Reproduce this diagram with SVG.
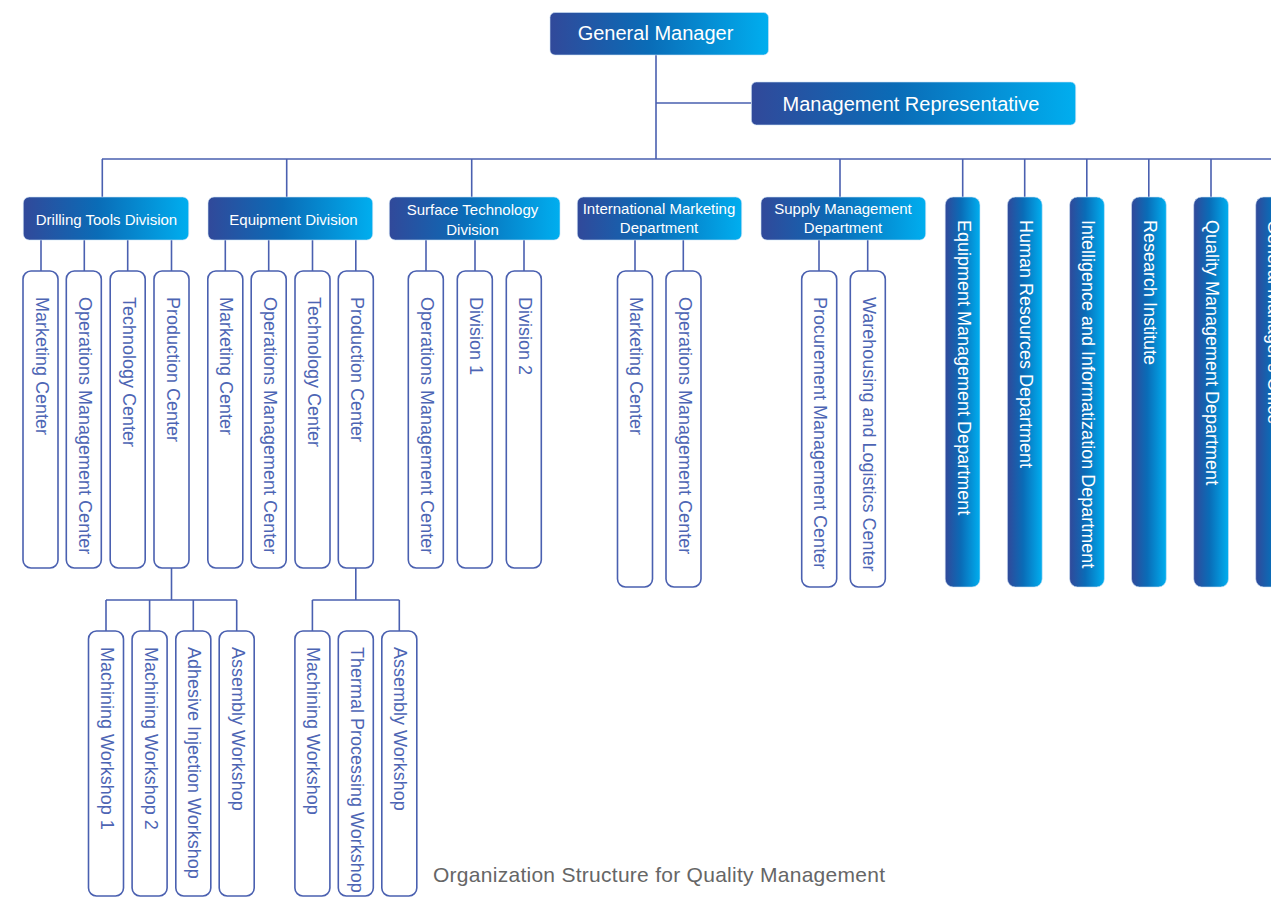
<svg xmlns="http://www.w3.org/2000/svg" width="1271" height="897" viewBox="0 0 1271 897">
<defs>
<linearGradient id="g" x1="0" y1="0" x2="1" y2="0">
<stop offset="0" stop-color="#31499a"/>
<stop offset="0.45" stop-color="#0a6cb7"/>
<stop offset="1" stop-color="#00aeef"/>
</linearGradient>
<style>
.fill{fill:url(#g);stroke:#cfe3f5;stroke-width:0.6}
.out{fill:#fff;stroke:#4a60b0;stroke-width:1.6}
.ln{fill:none;stroke:#4a60b0;stroke-width:1.6}
text{font-family:"Liberation Sans",Arial,sans-serif}
.w{fill:#fff}
.v{fill:#4d65b4;font-size:18px;dominant-baseline:central}
.vw{fill:#fff;font-size:18px;dominant-baseline:central}
.d{fill:#fff;font-size:15px;text-anchor:middle;dominant-baseline:central}
.h{fill:#fff;font-size:20px;text-anchor:middle;dominant-baseline:central}
.t{fill:#666;font-size:21px}
</style>
</defs>
<rect width="1271" height="897" fill="#fff"/>
<g id="connectors" class="ln">
<path d="M656 55V159M656 103H751M102 159H1271"/>
<path d="M102.3 159V197M286.7 159V197M471.7 159V197M840 159V197M962.7 159V197M1024.7 159V197M1086.8 159V197M1148.8 159V197M1211 159V197M1273 159V197"/>
<path d="M41 240V271M84.3 240V271M127.7 240V271M171.5 240V271"/>
<path d="M225.3 240V271M268.7 240V271M312.5 240V271M355.8 240V271"/>
<path d="M426 240V271M475 240V271M524 240V271"/>
<path d="M635 240V271M683.3 240V271"/>
<path d="M819 240V271M867.7 240V271"/>
<path d="M171.5 568V600M106 600H236.7M106 600V631M149.6 600V631M193.3 600V631M236.7 600V631"/>
<path d="M355.8 568V600M312.4 600H399.3M312.4 600V631M399.3 600V631"/>
</g>
<g id="gm"><rect class="fill" x="550" y="12.5" width="218.5" height="42.5" rx="5"/><text class="h" x="655.5" y="33">General Manager</text></g>
<g id="rep"><rect class="fill" x="751.4" y="82" width="324.3" height="43" rx="5"/><text class="h" x="911" y="103.5">Management Representative</text></g>

<g id="div-drill"><rect class="fill" x="23.3" y="197" width="165.4" height="43" rx="6"/><text class="d" x="106.5" y="219">Drilling Tools Division</text></g>
<g id="div-equip"><rect class="fill" x="208" y="197" width="164.7" height="43" rx="6"/><text class="d" x="293.5" y="219">Equipment Division</text></g>
<g id="div-surface"><rect class="fill" x="389.3" y="197" width="170.7" height="43" rx="6"/><text class="d" x="472.5" y="209">Surface Technology</text><text class="d" x="472.5" y="229.5">Division</text></g>
<g id="div-intl"><rect class="fill" x="577.3" y="197" width="164.4" height="43" rx="6"/><text class="d" x="659" y="208.5">International Marketing</text><text class="d" x="659" y="227">Department</text></g>
<g id="div-supply"><rect class="fill" x="761" y="197" width="164.7" height="43" rx="6"/><text class="d" x="843" y="208.5">Supply Management</text><text class="d" x="843" y="227">Department</text></g>

<g id="dt-marketing"><rect class="out" x="23" y="271" width="35" height="297" rx="8"/><text class="v" transform="translate(41.5 297) rotate(90)">Marketing Center</text></g>
<g id="dt-ops"><rect class="out" x="66.3" y="271" width="35" height="297" rx="8"/><text class="v" transform="translate(84.8 297) rotate(90)">Operations Management Center</text></g>
<g id="dt-tech"><rect class="out" x="110.2" y="271" width="35" height="297" rx="8"/><text class="v" transform="translate(128.7 297) rotate(90)">Technology Center</text></g>
<g id="dt-prod"><rect class="out" x="154" y="271" width="35" height="297" rx="8"/><text class="v" transform="translate(172.5 297) rotate(90)">Production Center</text></g>

<g id="eq-marketing"><rect class="out" x="207.8" y="271" width="35" height="297" rx="8"/><text class="v" transform="translate(226.3 297) rotate(90)">Marketing Center</text></g>
<g id="eq-ops"><rect class="out" x="251.2" y="271" width="35" height="297" rx="8"/><text class="v" transform="translate(269.7 297) rotate(90)">Operations Management Center</text></g>
<g id="eq-tech"><rect class="out" x="295" y="271" width="35" height="297" rx="8"/><text class="v" transform="translate(313.5 297) rotate(90)">Technology Center</text></g>
<g id="eq-prod"><rect class="out" x="338.3" y="271" width="35" height="297" rx="8"/><text class="v" transform="translate(356.8 297) rotate(90)">Production Center</text></g>

<g id="st-ops"><rect class="out" x="408.3" y="271" width="35" height="297" rx="8"/><text class="v" transform="translate(426.8 297) rotate(90)">Operations Management Center</text></g>
<g id="st-div1"><rect class="out" x="457.3" y="271" width="35" height="297" rx="8"/><text class="v" transform="translate(475.8 297) rotate(90)">Division 1</text></g>
<g id="st-div2"><rect class="out" x="506.3" y="271" width="35" height="297" rx="8"/><text class="v" transform="translate(524.8 297) rotate(90)">Division 2</text></g>

<g id="im-marketing"><rect class="out" x="617.5" y="271" width="35" height="316" rx="8"/><text class="v" transform="translate(636 297) rotate(90)">Marketing Center</text></g>
<g id="im-ops"><rect class="out" x="666" y="271" width="35" height="316" rx="8"/><text class="v" transform="translate(684.5 297) rotate(90)">Operations Management Center</text></g>

<g id="sm-proc"><rect class="out" x="801.7" y="271" width="35" height="316" rx="8"/><text class="v" transform="translate(820.2 297) rotate(90)">Procurement Management Center</text></g>
<g id="sm-ware"><rect class="out" x="850.3" y="271" width="35" height="316" rx="8"/><text class="v" transform="translate(868.8 297) rotate(90)">Warehousing and Logistics Center</text></g>

<g id="dept-equip"><rect class="fill" x="945.2" y="197" width="34.8" height="390" rx="8"/><text class="vw" transform="translate(963.5 220) rotate(90)">Equipment Management Department</text></g>
<g id="dept-hr"><rect class="fill" x="1007.4" y="197" width="34.8" height="390" rx="8"/><text class="vw" transform="translate(1025.7 220) rotate(90)">Human Resources Department</text></g>
<g id="dept-info"><rect class="fill" x="1069.6" y="197" width="34.8" height="390" rx="8"/><text class="vw" transform="translate(1087.9 220) rotate(90)">Intelligence and Informatization Department</text></g>
<g id="dept-research"><rect class="fill" x="1131.5" y="197" width="34.8" height="390" rx="8"/><text class="vw" transform="translate(1149.8 220) rotate(90)">Research Institute</text></g>
<g id="dept-quality"><rect class="fill" x="1193.7" y="197" width="34.8" height="390" rx="8"/><text class="vw" transform="translate(1212 220) rotate(90)">Quality Management Department</text></g>
<g id="dept-gmo"><rect class="fill" x="1255.7" y="197" width="34.8" height="390" rx="8"/><text class="vw" transform="translate(1274 220) rotate(90)">General Manager's Office</text></g>

<g id="ws-mach1"><rect class="out" x="88.5" y="631" width="35" height="265" rx="8"/><text class="v" transform="translate(107 647) rotate(90)">Machining Workshop 1</text></g>
<g id="ws-mach2"><rect class="out" x="132.1" y="631" width="35" height="265" rx="8"/><text class="v" transform="translate(150.6 647) rotate(90)">Machining Workshop 2</text></g>
<g id="ws-adh"><rect class="out" x="175.8" y="631" width="35" height="265" rx="8"/><text class="v" transform="translate(194.3 647) rotate(90)">Adhesive Injection Workshop</text></g>
<g id="ws-asm"><rect class="out" x="219.2" y="631" width="35" height="265" rx="8"/><text class="v" transform="translate(237.7 647) rotate(90)">Assembly Workshop</text></g>

<g id="ws2-mach"><rect class="out" x="294.9" y="631" width="35" height="265" rx="8"/><text class="v" transform="translate(313.4 647) rotate(90)">Machining Workshop</text></g>
<g id="ws2-thermal"><rect class="out" x="338.3" y="631" width="35" height="265" rx="8"/><text class="v" transform="translate(356.8 647) rotate(90)">Thermal Processing Workshop</text></g>
<g id="ws2-asm"><rect class="out" x="381.8" y="631" width="35" height="265" rx="8"/><text class="v" transform="translate(400.3 647) rotate(90)">Assembly Workshop</text></g>

<text class="t" x="433" y="882" textLength="452">Organization Structure for Quality Management</text>
</svg>
